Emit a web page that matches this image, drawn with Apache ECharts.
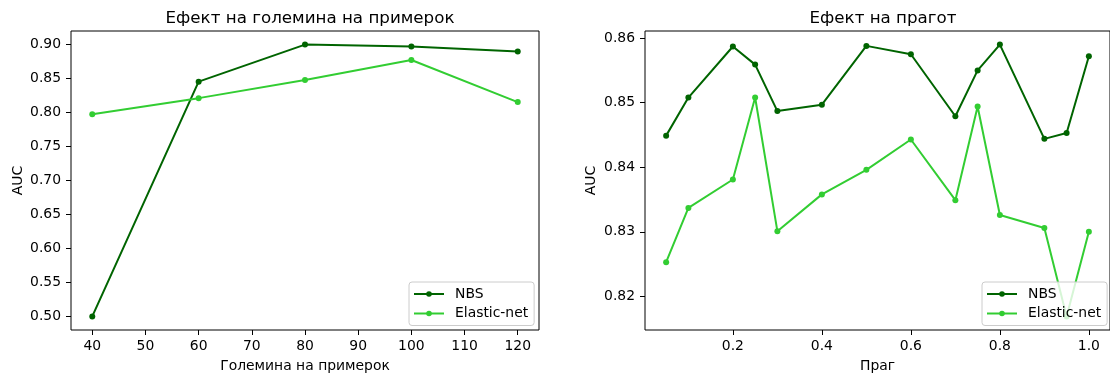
<!DOCTYPE html>
<html>
<head>
<meta charset="utf-8">
<script src="https://cdn.jsdelivr.net/npm/echarts@6/dist/echarts.min.js"></script>
<style>
  html, body { margin: 0; padding: 0; background: #fff; }
  #chart { width: 1110px; height: 378px; }
</style>
</head>
<body>
<div id="chart"></div>
<script>
// Left panel: AUC against sample size
const sampleSizes = [40, 60, 80, 100, 120];
const sizeNBS     = [0.500, 0.845, 0.8995, 0.8966, 0.8893];
const sizeElastic = [0.797, 0.8208, 0.8473, 0.8768, 0.8150];
const sizeTicksX  = [40, 50, 60, 70, 80, 90, 100, 110, 120];
const sizeTicksY  = [0.50, 0.55, 0.60, 0.65, 0.70, 0.75, 0.80, 0.85, 0.90];

// Right panel: AUC against threshold
const thresholds = [0.05, 0.1, 0.2, 0.25, 0.3, 0.4, 0.5, 0.6, 0.7, 0.75, 0.8, 0.9, 0.95, 1.0];
const thrNBS     = [0.8449, 0.8508, 0.8587, 0.8559, 0.8487, 0.8497, 0.8588, 0.8575, 0.8479, 0.8550, 0.8590, 0.8444, 0.8453, 0.8572];
const thrElastic = [0.8253, 0.8337, 0.8381, 0.8508, 0.8301, 0.8358, 0.8396, 0.8443, 0.8349, 0.8494, 0.8326, 0.8306, 0.8169, 0.8300];
const thrTicksX  = [0.2, 0.4, 0.6, 0.8, 1.0];
const thrTicksY  = [0.82, 0.83, 0.84, 0.85, 0.86];

const titles = ['Ефект на големина на примерок', 'Ефект на прагот'];
const xNames = ['Големина на примерок', 'Праг'];
const seriesNames = ['NBS', 'Elastic-net'];
const colors = ['#006400', '#32cd32'];

const FONT = 'DejaVu Sans';
const TICK = 13.9;

function pairs(xs, ys) { return xs.map((x, i) => [x, ys[i]]); }

// matplotlib-like 5% padding around the data range
function padded(vals) {
  const lo = Math.min(...vals), hi = Math.max(...vals);
  const m = (hi - lo) * 0.05;
  return [lo - m, hi + m];
}

function xAxis(grid, vals, ticks, name, fmt) {
  const [lo, hi] = padded(vals);
  return {
    type: 'value', gridIndex: grid, min: lo, max: hi,
    name: name, nameLocation: 'middle', nameGap: 29,
    nameTextStyle: { fontFamily: FONT, fontSize: TICK, color: '#000' },
    splitLine: { show: false },
    axisLine: { show: false },
    axisTick: { show: true, length: 5, inside: false, customValues: ticks, lineStyle: { color: '#000', width: 1 } },
    axisLabel: { customValues: ticks, margin: 9, fontFamily: FONT, fontSize: TICK, color: '#000', formatter: fmt }
  };
}

function yAxis(grid, vals, ticks, fmt, gap) {
  const [lo, hi] = padded(vals);
  return {
    type: 'value', gridIndex: grid, min: lo, max: hi,
    name: 'AUC', nameLocation: 'middle', nameGap: gap,
    nameTextStyle: { fontFamily: FONT, fontSize: TICK, color: '#000' },
    splitLine: { show: false },
    axisLine: { show: false },
    axisTick: { show: true, length: 5, inside: false, customValues: ticks, lineStyle: { color: '#000', width: 1 } },
    axisLabel: { customValues: ticks, margin: 10, fontFamily: FONT, fontSize: TICK, color: '#000', formatter: fmt }
  };
}

function line(name, data, color, idx) {
  return {
    type: 'line', name: name, xAxisIndex: idx, yAxisIndex: idx,
    data: data, color: color,
    symbol: 'circle', symbolSize: 6, showSymbol: true,
    lineStyle: { width: 2, color: color },
    itemStyle: { color: color },
    emphasis: { disabled: true },
    animation: false
  };
}

function legend(left) {
  return {
    data: seriesNames, left: left, top: 282, orient: 'vertical',
    backgroundColor: 'rgba(255,255,255,0.8)',
    borderColor: '#cccccc', borderWidth: 1, borderRadius: 3,
    padding: [5, 6, 5, 4], itemGap: 5.5,
    itemWidth: 30, itemHeight: 7,
    textStyle: { fontFamily: FONT, fontSize: TICK, color: '#000', lineHeight: 14, padding: [0, 0, 0, 6] }
  };
}

const allSize = sizeNBS.concat(sizeElastic);
const allThr = thrNBS.concat(thrElastic);

const chart = echarts.init(document.getElementById('chart'), null, { renderer: 'canvas' });
chart.setOption({
  animation: false,
  backgroundColor: '#fff',
  title: [
    { text: titles[0], left: 305, top: 5, textAlign: 'center',
      textStyle: { fontFamily: FONT, fontSize: 16.7, fontWeight: 'normal', color: '#000' } },
    { text: titles[1], left: 878, top: 5, textAlign: 'center',
      textStyle: { fontFamily: FONT, fontSize: 16.7, fontWeight: 'normal', color: '#000' } }
  ],
  grid: [
    { left: 71, width: 468, top: 31, height: 302.5, show: true, borderColor: '#000', borderWidth: 1, backgroundColor: 'transparent' },
    { left: 645, width: 467, top: 31, height: 302.5, show: true, borderColor: '#000', borderWidth: 1, backgroundColor: 'transparent' }
  ],
  xAxis: [
    xAxis(0, sampleSizes, sizeTicksX, xNames[0], v => String(Math.round(v))),
    xAxis(1, thresholds, thrTicksX, xNames[1], v => v.toFixed(1))
  ],
  yAxis: [
    yAxis(0, allSize, sizeTicksY, v => v.toFixed(2), 46),
    yAxis(1, allThr, thrTicksY, v => v.toFixed(2), 47)
  ],
  legend: [legend(409), legend(982)],
  series: [
    line(seriesNames[0], pairs(sampleSizes, sizeNBS), colors[0], 0),
    line(seriesNames[1], pairs(sampleSizes, sizeElastic), colors[1], 0),
    line(seriesNames[0], pairs(thresholds, thrNBS), colors[0], 1),
    line(seriesNames[1], pairs(thresholds, thrElastic), colors[1], 1)
  ]
});
</script>
</body>
</html>
